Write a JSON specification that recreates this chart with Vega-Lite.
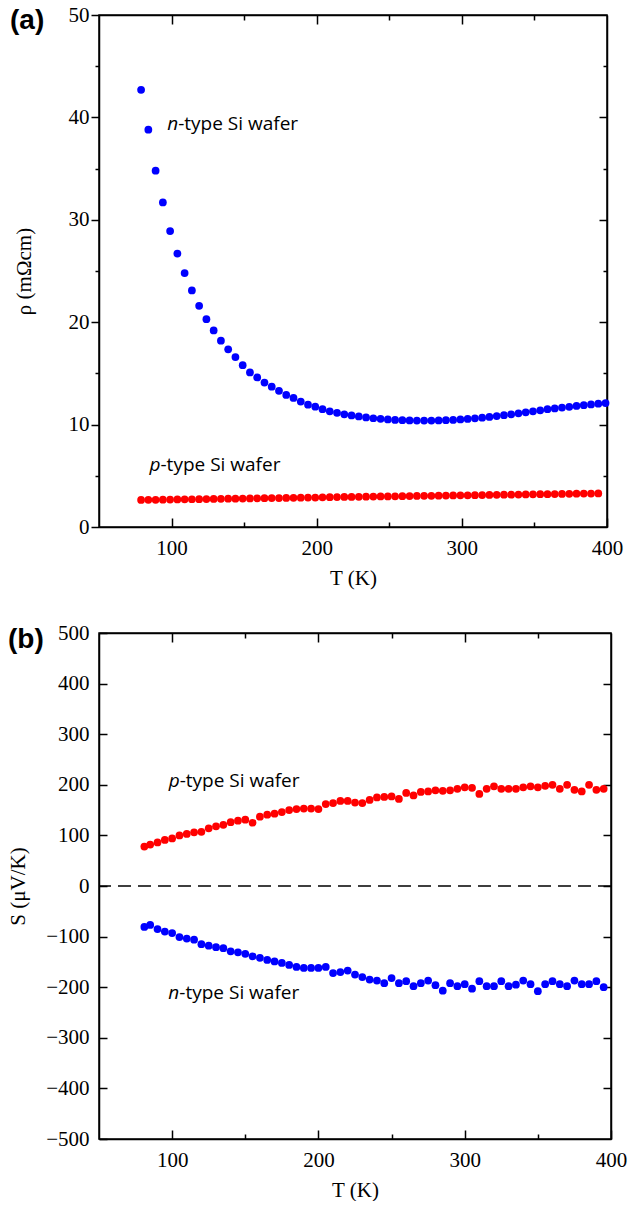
{
  "$schema": "https://vega.github.io/schema/vega-lite/v6.json",
  "background": "white",
  "padding": {"left": 6, "top": 3, "right": 0, "bottom": 0},
  "columns": 1,
  "align": "none",
  "spacing": 32,
  "datasets": {
    "rho": [
      {"T":79,"v":42.7,"type":"n"},{"T":84,"v":38.8,"type":"n"},{"T":89,"v":34.8,"type":"n"},{"T":94,"v":31.7,"type":"n"},{"T":99,"v":28.9,"type":"n"},{"T":104,"v":26.7,"type":"n"},{"T":109,"v":24.8,"type":"n"},{"T":114,"v":23.1,"type":"n"},{"T":119,"v":21.6,"type":"n"},{"T":124,"v":20.3,"type":"n"},{"T":129,"v":19.2,"type":"n"},{"T":134,"v":18.2,"type":"n"},{"T":139,"v":17.35,"type":"n"},{"T":144,"v":16.6,"type":"n"},{"T":149,"v":15.8,"type":"n"},{"T":154,"v":15.1,"type":"n"},{"T":159,"v":14.6,"type":"n"},{"T":164,"v":14.1,"type":"n"},{"T":169,"v":13.7,"type":"n"},{"T":174,"v":13.3,"type":"n"},{"T":179,"v":12.9,"type":"n"},{"T":184,"v":12.6,"type":"n"},{"T":189,"v":12.25,"type":"n"},{"T":194,"v":11.95,"type":"n"},{"T":199,"v":11.75,"type":"n"},{"T":204,"v":11.5,"type":"n"},{"T":209,"v":11.3,"type":"n"},{"T":214,"v":11.15,"type":"n"},{"T":219,"v":11.0,"type":"n"},{"T":224,"v":10.9,"type":"n"},{"T":229,"v":10.8,"type":"n"},{"T":234,"v":10.7,"type":"n"},{"T":239,"v":10.62,"type":"n"},{"T":244,"v":10.56,"type":"n"},{"T":249,"v":10.5,"type":"n"},{"T":254,"v":10.46,"type":"n"},{"T":259,"v":10.43,"type":"n"},{"T":264,"v":10.41,"type":"n"},{"T":269,"v":10.4,"type":"n"},{"T":274,"v":10.4,"type":"n"},{"T":279,"v":10.4,"type":"n"},{"T":284,"v":10.41,"type":"n"},{"T":289,"v":10.43,"type":"n"},{"T":294,"v":10.46,"type":"n"},{"T":299,"v":10.5,"type":"n"},{"T":304,"v":10.55,"type":"n"},{"T":309,"v":10.61,"type":"n"},{"T":314,"v":10.68,"type":"n"},{"T":319,"v":10.75,"type":"n"},{"T":324,"v":10.83,"type":"n"},{"T":329,"v":10.92,"type":"n"},{"T":334,"v":11.0,"type":"n"},{"T":339,"v":11.1,"type":"n"},{"T":344,"v":11.2,"type":"n"},{"T":349,"v":11.3,"type":"n"},{"T":354,"v":11.4,"type":"n"},{"T":359,"v":11.5,"type":"n"},{"T":364,"v":11.58,"type":"n"},{"T":369,"v":11.66,"type":"n"},{"T":374,"v":11.74,"type":"n"},{"T":379,"v":11.82,"type":"n"},{"T":384,"v":11.9,"type":"n"},{"T":389,"v":11.97,"type":"n"},{"T":394,"v":12.04,"type":"n"},{"T":399,"v":12.1,"type":"n"},
      {"T":79,"v":2.64,"type":"p"},{"T":84,"v":2.65,"type":"p"},{"T":89,"v":2.66,"type":"p"},{"T":94,"v":2.67,"type":"p"},{"T":99,"v":2.68,"type":"p"},{"T":104,"v":2.69,"type":"p"},{"T":109,"v":2.7,"type":"p"},{"T":114,"v":2.71,"type":"p"},{"T":119,"v":2.72,"type":"p"},{"T":124,"v":2.73,"type":"p"},{"T":129,"v":2.74,"type":"p"},{"T":134,"v":2.75,"type":"p"},{"T":139,"v":2.76,"type":"p"},{"T":144,"v":2.77,"type":"p"},{"T":149,"v":2.78,"type":"p"},{"T":154,"v":2.79,"type":"p"},{"T":159,"v":2.8,"type":"p"},{"T":164,"v":2.81,"type":"p"},{"T":169,"v":2.82,"type":"p"},{"T":174,"v":2.83,"type":"p"},{"T":179,"v":2.84,"type":"p"},{"T":184,"v":2.85,"type":"p"},{"T":189,"v":2.86,"type":"p"},{"T":194,"v":2.87,"type":"p"},{"T":199,"v":2.88,"type":"p"},{"T":204,"v":2.9,"type":"p"},{"T":209,"v":2.91,"type":"p"},{"T":214,"v":2.92,"type":"p"},{"T":219,"v":2.93,"type":"p"},{"T":224,"v":2.94,"type":"p"},{"T":229,"v":2.95,"type":"p"},{"T":234,"v":2.96,"type":"p"},{"T":239,"v":2.97,"type":"p"},{"T":244,"v":2.98,"type":"p"},{"T":249,"v":2.99,"type":"p"},{"T":254,"v":3.0,"type":"p"},{"T":259,"v":3.01,"type":"p"},{"T":264,"v":3.02,"type":"p"},{"T":269,"v":3.03,"type":"p"},{"T":274,"v":3.04,"type":"p"},{"T":279,"v":3.05,"type":"p"},{"T":284,"v":3.06,"type":"p"},{"T":289,"v":3.07,"type":"p"},{"T":294,"v":3.08,"type":"p"},{"T":299,"v":3.09,"type":"p"},{"T":304,"v":3.1,"type":"p"},{"T":309,"v":3.11,"type":"p"},{"T":314,"v":3.12,"type":"p"},{"T":319,"v":3.13,"type":"p"},{"T":324,"v":3.14,"type":"p"},{"T":329,"v":3.15,"type":"p"},{"T":334,"v":3.16,"type":"p"},{"T":339,"v":3.17,"type":"p"},{"T":344,"v":3.18,"type":"p"},{"T":349,"v":3.19,"type":"p"},{"T":354,"v":3.2,"type":"p"},{"T":359,"v":3.21,"type":"p"},{"T":364,"v":3.22,"type":"p"},{"T":369,"v":3.23,"type":"p"},{"T":374,"v":3.24,"type":"p"},{"T":379,"v":3.25,"type":"p"},{"T":384,"v":3.26,"type":"p"},{"T":389,"v":3.27,"type":"p"},{"T":394,"v":3.28,"type":"p"}
    ],
    "see": [
      {"T":81,"v":78,"type":"p"},{"T":85,"v":82,"type":"p"},{"T":90,"v":86,"type":"p"},{"T":95,"v":91,"type":"p"},{"T":100,"v":94,"type":"p"},{"T":105,"v":100,"type":"p"},{"T":110,"v":103,"type":"p"},{"T":115,"v":106,"type":"p"},{"T":120,"v":107,"type":"p"},{"T":125,"v":114,"type":"p"},{"T":130,"v":118,"type":"p"},{"T":135,"v":121,"type":"p"},{"T":140,"v":126,"type":"p"},{"T":145,"v":129,"type":"p"},{"T":150,"v":131,"type":"p"},{"T":155,"v":125,"type":"p"},{"T":160,"v":137,"type":"p"},{"T":165,"v":141,"type":"p"},{"T":170,"v":143,"type":"p"},{"T":175,"v":146,"type":"p"},{"T":180,"v":150,"type":"p"},{"T":185,"v":152,"type":"p"},{"T":190,"v":153,"type":"p"},{"T":195,"v":153,"type":"p"},{"T":200,"v":152,"type":"p"},{"T":205,"v":162,"type":"p"},{"T":210,"v":164,"type":"p"},{"T":215,"v":168,"type":"p"},{"T":220,"v":168,"type":"p"},{"T":225,"v":165,"type":"p"},{"T":230,"v":164,"type":"p"},{"T":235,"v":170,"type":"p"},{"T":240,"v":175,"type":"p"},{"T":245,"v":176,"type":"p"},{"T":250,"v":177,"type":"p"},{"T":255,"v":172,"type":"p"},{"T":260,"v":184,"type":"p"},{"T":265,"v":179,"type":"p"},{"T":270,"v":186,"type":"p"},{"T":275,"v":187,"type":"p"},{"T":280,"v":189,"type":"p"},{"T":285,"v":188,"type":"p"},{"T":290,"v":189,"type":"p"},{"T":295,"v":192,"type":"p"},{"T":300,"v":195,"type":"p"},{"T":305,"v":194,"type":"p"},{"T":310,"v":182,"type":"p"},{"T":315,"v":192,"type":"p"},{"T":320,"v":197,"type":"p"},{"T":325,"v":192,"type":"p"},{"T":330,"v":192,"type":"p"},{"T":335,"v":192,"type":"p"},{"T":340,"v":195,"type":"p"},{"T":345,"v":197,"type":"p"},{"T":350,"v":195,"type":"p"},{"T":355,"v":198,"type":"p"},{"T":360,"v":200,"type":"p"},{"T":365,"v":192,"type":"p"},{"T":370,"v":200,"type":"p"},{"T":375,"v":190,"type":"p"},{"T":380,"v":187,"type":"p"},{"T":385,"v":200,"type":"p"},{"T":390,"v":190,"type":"p"},{"T":395,"v":192,"type":"p"},
      {"T":81,"v":-81,"type":"n"},{"T":85,"v":-77,"type":"n"},{"T":90,"v":-85,"type":"n"},{"T":95,"v":-90,"type":"n"},{"T":100,"v":-93,"type":"n"},{"T":105,"v":-101,"type":"n"},{"T":110,"v":-104,"type":"n"},{"T":115,"v":-106,"type":"n"},{"T":120,"v":-115,"type":"n"},{"T":125,"v":-118,"type":"n"},{"T":130,"v":-121,"type":"n"},{"T":135,"v":-123,"type":"n"},{"T":140,"v":-129,"type":"n"},{"T":145,"v":-131,"type":"n"},{"T":150,"v":-134,"type":"n"},{"T":155,"v":-139,"type":"n"},{"T":160,"v":-142,"type":"n"},{"T":165,"v":-146,"type":"n"},{"T":170,"v":-149,"type":"n"},{"T":175,"v":-152,"type":"n"},{"T":180,"v":-156,"type":"n"},{"T":185,"v":-160,"type":"n"},{"T":190,"v":-162,"type":"n"},{"T":195,"v":-162,"type":"n"},{"T":200,"v":-162,"type":"n"},{"T":205,"v":-160,"type":"n"},{"T":210,"v":-172,"type":"n"},{"T":215,"v":-170,"type":"n"},{"T":220,"v":-167,"type":"n"},{"T":225,"v":-175,"type":"n"},{"T":230,"v":-180,"type":"n"},{"T":235,"v":-185,"type":"n"},{"T":240,"v":-187,"type":"n"},{"T":245,"v":-192,"type":"n"},{"T":250,"v":-182,"type":"n"},{"T":255,"v":-192,"type":"n"},{"T":260,"v":-188,"type":"n"},{"T":265,"v":-198,"type":"n"},{"T":270,"v":-192,"type":"n"},{"T":275,"v":-187,"type":"n"},{"T":280,"v":-196,"type":"n"},{"T":285,"v":-207,"type":"n"},{"T":290,"v":-192,"type":"n"},{"T":295,"v":-198,"type":"n"},{"T":300,"v":-194,"type":"n"},{"T":305,"v":-203,"type":"n"},{"T":310,"v":-188,"type":"n"},{"T":315,"v":-198,"type":"n"},{"T":320,"v":-198,"type":"n"},{"T":325,"v":-188,"type":"n"},{"T":330,"v":-198,"type":"n"},{"T":335,"v":-195,"type":"n"},{"T":340,"v":-187,"type":"n"},{"T":345,"v":-194,"type":"n"},{"T":350,"v":-208,"type":"n"},{"T":355,"v":-194,"type":"n"},{"T":360,"v":-188,"type":"n"},{"T":365,"v":-194,"type":"n"},{"T":370,"v":-198,"type":"n"},{"T":375,"v":-187,"type":"n"},{"T":380,"v":-194,"type":"n"},{"T":385,"v":-194,"type":"n"},{"T":390,"v":-188,"type":"n"},{"T":395,"v":-200,"type":"n"}
    ],
    "lab": [
      {"panel":"a","T":97,"v":39.4,"it":"n","rest":"-type Si wafer"},
      {"panel":"a","T":84.8,"v":6.05,"it":"p","rest":"-type Si wafer"},
      {"panel":"b","T":97.6,"v":208,"it":"p","rest":"-type Si wafer"},
      {"panel":"b","T":97.4,"v":-212,"it":"n","rest":"-type Si wafer"}
    ],
    "zero": [{"z":0}]
  },
  "concat": [
    {
      "width": 508,
      "height": 512,
      "title": {"text":"(a)","anchor":"start","frame":"group","baseline":"middle","offset":-45,"dx":-89},
      "layer": [
        {
          "data": {"name":"rho"},
          "mark": {"type":"point","filled":true,"size":60,"opacity":1,"shape":"circle"},
          "encoding": {
            "x": {"field":"T","type":"quantitative","scale":{"domain":[50,400],"nice":false,"zero":false},
                  "axis":{"title":"T (K)","values":[100,150,200,250,300,350,400],"labelExpr":"datum.value % 100 === 0 ? datum.label : ''",
                          "tickSize":{"condition":{"test":"datum.value % 100 === 0","value":-9},"value":-5},"labelPadding":19,"titlePadding":5}},
            "y": {"field":"v","type":"quantitative","scale":{"domain":[0,50],"nice":false,"zero":false},
                  "axis":{"title":"ρ (mΩcm)","values":[0,5,10,15,20,25,30,35,40,45,50],"labelExpr":"datum.value % 10 === 0 ? datum.label : ''",
                          "tickSize":{"condition":{"test":"datum.value % 10 === 0","value":8},"value":4},"labelPadding":2,"titlePadding":34}},
            "color": {"field":"type","type":"nominal","scale":{"domain":["n","p"],"range":["#0000ff","#ff0000"]},"legend":null}
          }
        },
        {
          "data": {"name":"rho"},
          "mark": {"type":"point","opacity":0},
          "encoding": {
            "x": {"field":"T","type":"quantitative","axis":{"orient":"top","values":[100,150,200,250,300,350],"labels":false,"title":null,"tickSize":{"condition":{"test":"datum.value % 100 === 0","value":-9},"value":-5},"minExtent":0,"maxExtent":0}},
            "y": {"field":"v","type":"quantitative","axis":{"orient":"right","values":[5,10,15,20,25,30,35,40,45],"labels":false,"title":null,"tickSize":{"condition":{"test":"datum.value % 10 === 0","value":-8},"value":-4},"minExtent":0,"maxExtent":0}}
          }
        },
        {
          "data": {"name":"lab"},
          "transform": [{"filter":"datum.panel === 'a'"}],
          "mark": {"type":"text","align":"left","baseline":"middle","font":"Open Sans","fontSize":19,"fontStyle":"italic","color":"black"},
          "encoding": {
            "x": {"field":"T","type":"quantitative","axis":null},
            "y": {"field":"v","type":"quantitative","axis":null},
            "text": {"field":"it"}
          }
        },
        {
          "data": {"name":"lab"},
          "transform": [{"filter":"datum.panel === 'a'"}],
          "mark": {"type":"text","align":"left","baseline":"middle","font":"Open Sans","fontSize":19,"dx":11,"color":"black"},
          "encoding": {
            "x": {"field":"T","type":"quantitative","axis":null},
            "y": {"field":"v","type":"quantitative","axis":null},
            "text": {"field":"rest"}
          }
        }
      ],
      "resolve": {"axis": {"x":"independent","y":"independent"}}
    },
    {
      "width": 512,
      "height": 506,
      "title": {"text":"(b)","anchor":"start","frame":"group","baseline":"middle","offset":-46,"dx":-91},
      "layer": [
        {
          "data": {"name":"zero"},
          "mark": {"type":"rule","strokeDash":[13,7],"strokeWidth":1.5,"color":"black"},
          "encoding": {
            "y": {"field":"z","type":"quantitative","axis":null}
          }
        },
        {
          "data": {"name":"see"},
          "mark": {"type":"point","filled":true,"size":60,"opacity":1,"shape":"circle"},
          "encoding": {
            "x": {"field":"T","type":"quantitative","scale":{"domain":[50,400],"nice":false,"zero":false},
                  "axis":{"title":"T (K)","values":[100,150,200,250,300,350,400],"labelExpr":"datum.value % 100 === 0 ? datum.label : ''",
                          "tickSize":{"condition":{"test":"datum.value % 100 === 0","value":-9},"value":-5},"labelPadding":19,"titlePadding":5}},
            "y": {"field":"v","type":"quantitative","scale":{"domain":[-500,500],"nice":false,"zero":false},
                  "axis":{"title":"S (μV/K)","values":[-500,-400,-300,-200,-100,0,100,200,300,400,500],"tickSize":-8,"labelPadding":18,"titlePadding":17}},
            "color": {"field":"type","type":"nominal","scale":{"domain":["n","p"],"range":["#0000ff","#ff0000"]},"legend":null}
          }
        },
        {
          "data": {"name":"see"},
          "mark": {"type":"point","opacity":0},
          "encoding": {
            "x": {"field":"T","type":"quantitative","axis":{"orient":"top","values":[100,150,200,250,300,350],"labels":false,"title":null,"tickSize":{"condition":{"test":"datum.value % 100 === 0","value":-9},"value":-5},"minExtent":0,"maxExtent":0}},
            "y": {"field":"v","type":"quantitative","axis":{"orient":"right","values":[-400,-300,-200,-100,0,100,200,300,400],"labels":false,"title":null,"tickSize":-8,"minExtent":0,"maxExtent":0}}
          }
        },
        {
          "data": {"name":"lab"},
          "transform": [{"filter":"datum.panel === 'b'"}],
          "mark": {"type":"text","align":"left","baseline":"middle","font":"Open Sans","fontSize":19,"fontStyle":"italic","color":"black"},
          "encoding": {
            "x": {"field":"T","type":"quantitative","axis":null},
            "y": {"field":"v","type":"quantitative","axis":null},
            "text": {"field":"it"}
          }
        },
        {
          "data": {"name":"lab"},
          "transform": [{"filter":"datum.panel === 'b'"}],
          "mark": {"type":"text","align":"left","baseline":"middle","font":"Open Sans","fontSize":19,"dx":11,"color":"black"},
          "encoding": {
            "x": {"field":"T","type":"quantitative","axis":null},
            "y": {"field":"v","type":"quantitative","axis":null},
            "text": {"field":"rest"}
          }
        }
      ],
      "resolve": {"axis": {"x":"independent","y":"independent"}}
    }
  ],
  "config": {
    "view": {"stroke":"black","strokeWidth":1.5},
    "axis": {"domainColor":"black","domainWidth":1.5,"tickColor":"black","tickWidth":1.5,"labelFont":"Liberation Serif","labelFontSize":21,"labelColor":"black","titleFont":"Liberation Serif","titleFontSize":21,"titleFontWeight":"normal","titleColor":"black","grid":false,"labelFlush":false,"labelOverlap":false},
    "title": {"font":"Liberation Sans","fontSize":28,"fontWeight":"bold","color":"black"}
  }
}
